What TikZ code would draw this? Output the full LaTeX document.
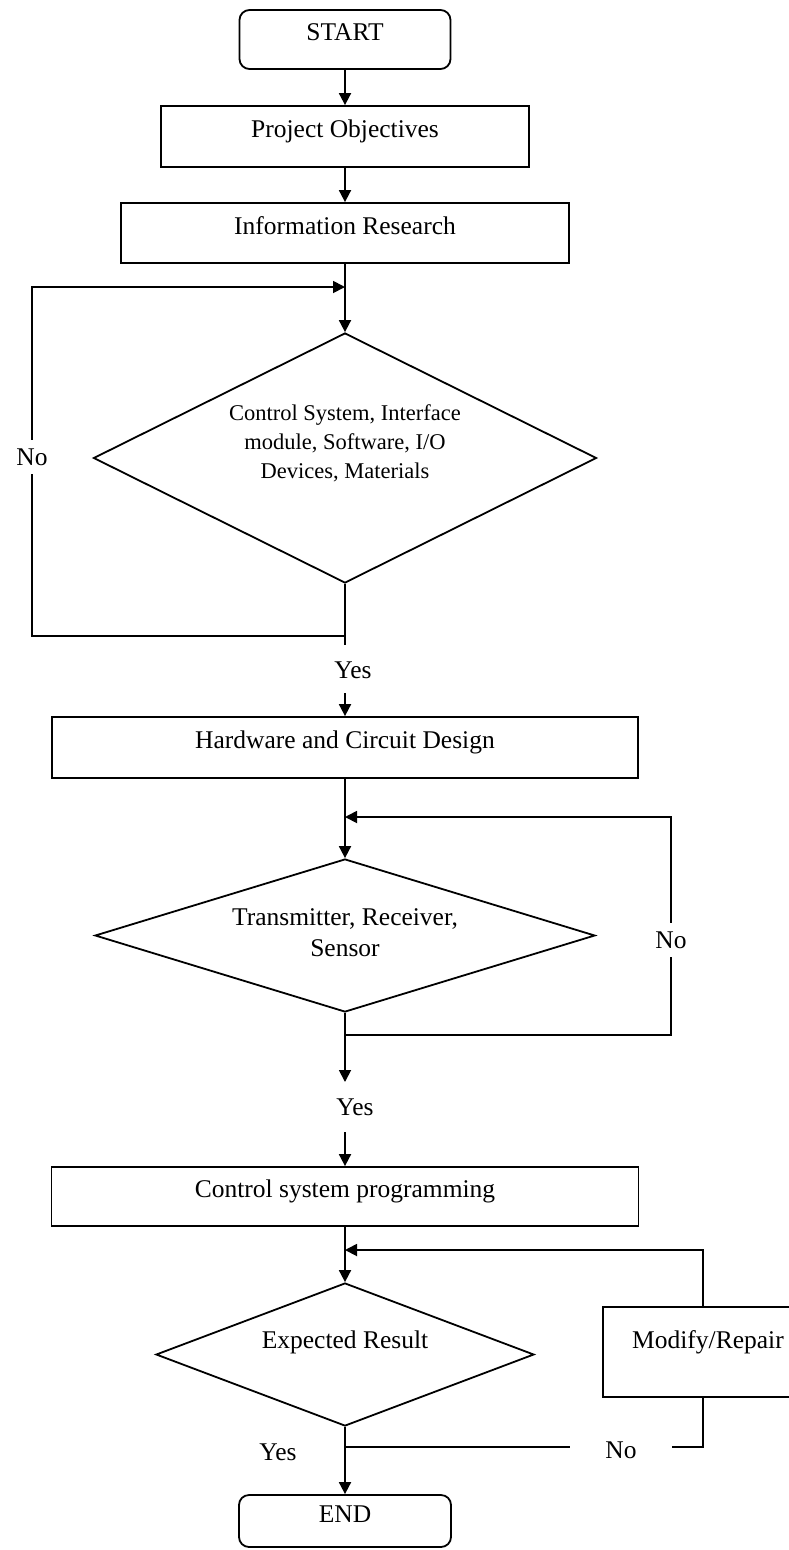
\documentclass[tikz,border=0pt]{standalone}
\usepackage{fontspec}
\setmainfont{Liberation Serif}
\usetikzlibrary{arrows.meta,shapes.geometric}
\begin{document}
\begin{tikzpicture}[x=1pt,y=-1pt,
  line width=1.8pt,
  font=\fontsize{25.5}{31}\selectfont,
  box/.style={draw, rectangle, inner sep=0pt, text height=0.7em, text depth=0.45em},
  term/.style={draw, rectangle, rounded corners=10pt, inner sep=0pt, text height=0.7em, text depth=0.45em},
  dec/.style={draw, diamond, inner sep=0pt},
  arr/.style={-{Triangle[length=12pt,width=12pt]}},
  lbl/.style={fill=white, inner xsep=3pt, inner ysep=9pt},
  plain/.style={inner sep=0pt}
]
\useasboundingbox (0,0) rectangle (789,1550);
\fill[white] (0,0) rectangle (789,1550);
\clip (0,0) rectangle (789,1550);

% nodes
\node[term, minimum width=211pt, minimum height=59pt] (start) at (345,39.5) {START};
\node[box, minimum width=368pt, minimum height=61pt] (po) at (345,136.5) {Project Objectives};
\node[box, minimum width=448pt, minimum height=60pt] (ir) at (345,233) {Information Research};
\node[dec, minimum width=503pt, minimum height=250pt, aspect=2] (d1) at (345,458) {};
\node[plain, font=\fontsize{22.5}{29}\selectfont, align=center] (d1t) at ([yshift=15pt]d1.center) {Control System, Interface\\module, Software, I/O\\Devices, Materials};
\node[box, minimum width=586pt, minimum height=61pt] (hw) at (345,747.5) {Hardware and Circuit Design};
\node[dec, minimum width=500pt, minimum height=153pt, aspect=3.27] (d2) at (345,935.5) {};
\node[plain, align=center, font=\fontsize{25.5}{31}\selectfont] (d2t) at ([yshift=3pt]d2.center) {Transmitter, Receiver,\\Sensor};
\node[box, minimum width=587pt, minimum height=59pt] (cp) at (345,1196.5) {Control system programming};
\node[dec, minimum width=378pt, minimum height=143pt, aspect=2.64] (d3) at (345,1354.5) {};
\node[plain] (d3t) at ([yshift=12pt]d3.center) {Expected Result};
\node[draw, rectangle, minimum width=200pt, minimum height=90pt] (mr) at (703,1352) {};
\node[plain] (mrt) at ([xshift=5pt,yshift=10pt]mr.center) {Modify/Repair};
\node[term, minimum width=212pt, minimum height=52pt] (end) at (345,1521) {END};

% helper coordinates
\coordinate (j1) at (345,287);
\coordinate (l1t) at (32,287);
\coordinate (l1b) at (32,636);
\coordinate (b1) at (345,636);
\coordinate (y1a) at (345,645);
\coordinate (y1b) at (345,693);
\coordinate (j2) at (345,817);
\coordinate (r2t) at (671,817);
\coordinate (r2b) at (671,1035);
\coordinate (b2) at (345,1035);
\coordinate (y2a) at (345,1082);
\coordinate (y2b) at (345,1132);
\coordinate (j3) at (345,1250);
\coordinate (k3) at (703,1250);
\coordinate (m3) at (703,1447);
\coordinate (b3) at (345,1447);

% connectors
\draw[arr] (start) -- (po);
\draw[arr] (po) -- (ir);
\draw[arr] (ir) -- (d1);
\draw (d1) -- (y1a);
\draw[arr] (b1) -- (l1b) -- (l1t) -- (j1);
\draw[arr] (y1b) -- (hw);
\draw[arr] (hw) -- (d2);
\draw[arr] (d2) -- (y2a);
\draw[arr] (b2) -- (r2b) -- (r2t) -- (j2);
\draw[arr] (y2b) -- (cp);
\draw[arr] (cp) -- (d3);
\draw[arr] (mr.north) -- (k3) -- (j3);
\draw (mr.south) -- (m3) -- (b3);
\draw[arr] (d3) -- (end);

% labels
\node[lbl] (no1) at (32,457) {No};
\node[plain] (yes1) at (353,670) {Yes};
\node[lbl] (no2) at (671,940) {No};
\node[plain] (yes2) at (355,1107) {Yes};
\node[lbl, inner xsep=35pt] (no3) at (621,1450) {No};
\node[plain] (yes3) at (278,1452) {Yes};
\end{tikzpicture}
\end{document}
